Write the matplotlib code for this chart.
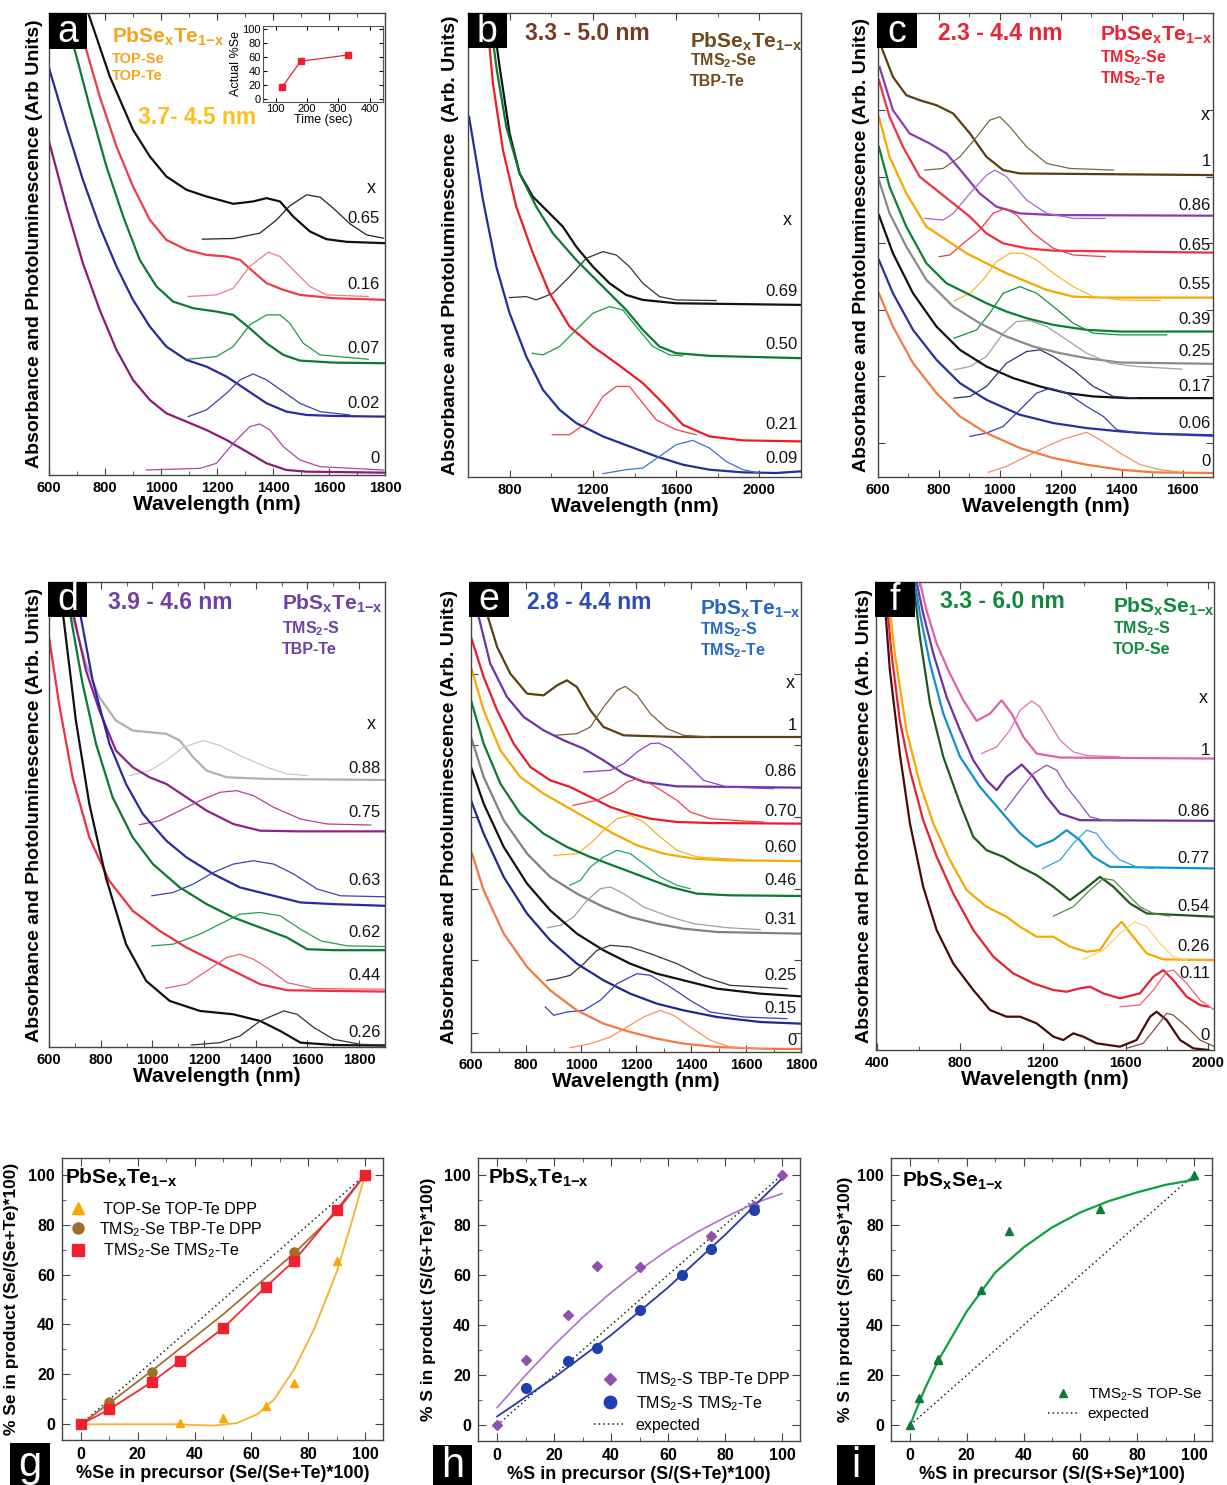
import numpy as np
import matplotlib
matplotlib.use('Agg')
import matplotlib.pyplot as plt
from matplotlib.patches import Rectangle
from matplotlib.lines import Line2D

plt.rcParams['font.family'] = ['Liberation Sans', 'DejaVu Sans']
plt.rcParams['mathtext.fontset'] = 'custom'
plt.rcParams['mathtext.rm'] = 'Liberation Sans'
plt.rcParams['mathtext.bf'] = 'Liberation Sans:bold'
plt.rcParams['mathtext.it'] = 'Liberation Sans:italic'

# ---------------- panel a : PbSexTe1-x, TOP-Se / TOP-Te ----------------
a_065_abs = ([740, 817, 900, 960, 1019, 1091, 1162, 1258, 1329, 1377, 1425, 1472, 1532, 1591, 1663, 1800],
             [138.5, 119.5, 103.5, 95.5, 89.5, 85.5, 83.5, 81.3, 82, 83, 82, 77.5, 73, 70.7, 69.9, 69.5])
a_065_pl = ([1148, 1258, 1353, 1413, 1460, 1520, 1568, 1615, 1675, 1734, 1794],
            [70.7, 70.9, 72.5, 76.5, 80.7, 84, 83.3, 80, 75.3, 72, 71])
a_016_abs = ([688, 733, 781, 841, 900, 960, 1019, 1091, 1162, 1234, 1282, 1329, 1377, 1437, 1496, 1615, 1800],
             [138.5, 127.5, 113.5, 98.5, 86.5, 76.5, 70.5, 67.5, 66, 65.5, 64.5, 61, 57.5, 55.5, 54, 53, 52.5])
a_016_pl = ([1097, 1198, 1258, 1317, 1383, 1425, 1472, 1532, 1591, 1740],
            [53.5, 54, 56, 62.5, 66.8, 65.5, 61.5, 56.5, 54, 53.5])
a_007_abs = ([656, 698, 745, 805, 865, 924, 984, 1043, 1115, 1198, 1258, 1317, 1377, 1437, 1496, 1615, 1800],
             [138.5, 125.5, 110.5, 92.5, 77.5, 64.5, 56.5, 52, 50, 49, 48, 44, 39.5, 36, 34.3, 33.7, 33.5])
a_007_pl = ([1097, 1198, 1258, 1317, 1377, 1425, 1460, 1508, 1568, 1740],
            [34.7, 35.5, 38.5, 45, 48, 48, 45.5, 39.5, 36, 34.7])
a_002_abs = ([600, 662, 721, 781, 841, 900, 960, 1019, 1091, 1162, 1234, 1306, 1377, 1448, 1520, 1615, 1800],
             [122, 104.5, 88.5, 74.5, 62.5, 52.5, 44.5, 38.5, 34.5, 32.5, 29.5, 25.5, 21.5, 19, 18, 17.7, 17.5])
a_002_pl = ([1097, 1162, 1234, 1282, 1329, 1377, 1437, 1496, 1568, 1675],
            [17.5, 19.5, 24.5, 28.5, 30.3, 28.5, 25, 21.5, 19, 18])
a_000_abs = ([600, 662, 721, 781, 841, 900, 960, 1019, 1091, 1162, 1234, 1306, 1377, 1448, 1520, 1800],
             [100, 80.5, 63.5, 49.5, 37.5, 28.5, 22.5, 18.5, 16, 13.5, 10.5, 7, 3.5, 1.5, 1, 0.7])
a_000_pl = ([948, 1139, 1198, 1258, 1317, 1353, 1389, 1437, 1496, 1568, 1794],
            [1.5, 2, 3.5, 9.5, 14.5, 15.3, 13.5, 8.5, 4.5, 2.5, 1.5])
a_labels = ['0.65', '0.16', '0.07', '0.02', '0']
a_label_y = [77, 57, 38, 21.5, 5]
# inset: actual %Se vs time
inset_time = [120, 180, 330]
inset_se = [16, 54, 63]

# ---------------- panel b : PbSexTe1-x, TMS2-Se / TBP-Te ----------------
b_069_abs = ([717, 752, 800, 848, 912, 992, 1056, 1120, 1200, 1280, 1360, 1440, 1600, 2200],
             [139.4, 123.2, 103.2, 91.2, 84.2, 79.2, 75.2, 69.2, 63.2, 58.2, 54.7, 53.2, 52.2, 51.7])
b_069_pl = ([800, 880, 928, 1008, 1088, 1168, 1248, 1312, 1376, 1440, 1520, 1600, 1792],
            [53.9, 54.2, 53.2, 55.2, 60.2, 65.7, 67.7, 66.7, 63.2, 58.2, 54.2, 53.2, 53])
b_050_abs = ([704, 736, 784, 848, 928, 1008, 1120, 1200, 1280, 1360, 1440, 1520, 1600, 1760, 2200],
             [139.4, 123.2, 105.2, 91.2, 81.2, 73.2, 65.2, 60.2, 55.2, 50.2, 44.2, 39.2, 37.2, 36.4, 35.7])
b_050_pl = ([909, 960, 1040, 1120, 1200, 1280, 1344, 1408, 1488, 1568, 1632],
            [37.2, 36.7, 39.2, 44.2, 49.2, 51.2, 50.2, 45.2, 39.2, 36.7, 36.4])
b_021_abs = ([688, 720, 768, 832, 912, 992, 1088, 1200, 1312, 1440, 1536, 1632, 1760, 1920, 2200],
             [139.4, 118.2, 98.2, 81.2, 67.2, 55.2, 45.2, 39.2, 34.2, 28.2, 22.2, 15.7, 12.2, 11, 10.7])
b_021_pl = ([1005, 1088, 1168, 1248, 1312, 1376, 1440, 1504, 1600, 1696],
            [12.7, 12.7, 16.2, 24.2, 27.2, 27.2, 22.2, 17.2, 14.2, 12.7])
b_009_abs = ([605, 672, 736, 800, 880, 960, 1040, 1120, 1248, 1376, 1504, 1632, 1760, 1920, 2080, 2200],
             [108.2, 83.2, 63.2, 49.2, 36.2, 26.2, 20.2, 16.2, 12.2, 9.2, 6.2, 3.7, 2.2, 1.4, 1.2, 1.7])
b_009_pl = ([1248, 1360, 1440, 1520, 1600, 1680, 1760, 1840, 1920, 2000],
            [1, 2.2, 2.7, 6.2, 9.7, 11, 8.7, 4.7, 2.2, 1.2])
b_labels = ['0.69', '0.50', '0.21', '0.09']
b_label_y = [55.7, 39.7, 15.7, 5.7]

# ---------------- panel c : PbSexTe1-x, TMS2-Se / TMS2-Te ----------------
c_100_abs = ([611, 649, 693, 737, 792, 847, 902, 956, 1011, 1066, 1702],
             [129.2, 120.2, 114.7, 113.2, 111.7, 109.2, 103.2, 96.2, 92.2, 91.2, 90.7])
c_100_pl = ([754, 814, 869, 924, 967, 1000, 1033, 1088, 1154, 1230, 1373],
            [92.2, 92.7, 96.2, 102.2, 107.2, 108.2, 105.2, 99.2, 94.2, 92.7, 92.2])
c_086_abs = ([605, 649, 704, 770, 825, 880, 934, 989, 1066, 1176, 1702],
             [123.2, 110.2, 103.2, 100.2, 97.2, 91.2, 85.2, 81.2, 79.2, 78.7, 78.5])
c_086_pl = ([754, 814, 847, 902, 956, 984, 1022, 1088, 1154, 1241, 1346],
            [77.7, 77.2, 79.2, 85.2, 90.7, 92.2, 90.2, 83.2, 79.2, 77.7, 77.7])
c_065_abs = ([603, 638, 682, 737, 792, 847, 902, 956, 1011, 1088, 1176, 1702],
             [119.2, 108.2, 99.2, 90.2, 86.2, 82.2, 78.2, 73.2, 70.2, 68.7, 68, 67.4])
c_065_pl = ([801, 836, 880, 934, 978, 1017, 1055, 1110, 1176, 1241, 1346],
            [66.2, 66.7, 70.2, 74.2, 79.2, 80.7, 78.7, 73.2, 68.7, 66.7, 66.2])
c_055_abs = ([603, 638, 693, 759, 825, 891, 956, 1022, 1088, 1154, 1241, 1340, 1702],
             [108.2, 96.2, 85.2, 75.2, 71.2, 67.2, 64.2, 61.2, 58.7, 56.2, 54.2, 53.9, 53.9])
c_055_pl = ([850, 902, 945, 989, 1033, 1077, 1121, 1176, 1241, 1307, 1395, 1527],
            [52.9, 55.2, 59.2, 64.7, 67.2, 67.2, 65.2, 61.2, 57.2, 54.2, 53.2, 53])
c_039_abs = ([603, 638, 693, 759, 825, 891, 956, 1022, 1088, 1176, 1285, 1395, 1702],
             [99.2, 87.2, 75.2, 64.2, 58.2, 55.2, 52.2, 49.7, 47.7, 45.7, 44.2, 43.7, 43.7])
c_039_pl = ([850, 880, 924, 967, 1011, 1066, 1121, 1176, 1241, 1307, 1395, 1548],
            [41.7, 42.7, 44.2, 49.2, 55.2, 57.2, 55.2, 51.2, 46.2, 43.2, 42.7, 42.7])
c_025_abs = ([603, 638, 693, 759, 847, 934, 1022, 1110, 1198, 1285, 1395, 1702],
             [89.2, 79.2, 69.2, 59.2, 51.2, 46.2, 42.2, 39.2, 37.2, 35.7, 34.4, 34])
c_025_pl = ([850, 902, 956, 1011, 1055, 1099, 1154, 1220, 1285, 1362, 1450, 1598],
            [32.2, 33.2, 36.2, 43.2, 46.7, 47, 45.2, 41.2, 37.2, 34.2, 33.2, 32.4])
c_017_abs = ([603, 649, 715, 792, 869, 956, 1044, 1132, 1220, 1307, 1417, 1702],
             [78.7, 67.2, 55.2, 45.2, 38.2, 33.2, 29.7, 27.2, 25.2, 24.2, 23.7, 23.7])
c_017_pl = ([850, 902, 956, 1022, 1088, 1132, 1176, 1241, 1307, 1373, 1450],
            [23.7, 24.2, 27.2, 34.2, 37.7, 38.2, 36.2, 32.2, 27.2, 24.2, 23.7])
c_006_abs = ([603, 649, 715, 792, 869, 956, 1066, 1176, 1285, 1395, 1505, 1702],
             [65.2, 55.2, 44.2, 35.2, 28.2, 23.2, 18.7, 16.2, 14.7, 13.7, 13, 12.4])
c_006_pl = ([902, 956, 1011, 1066, 1121, 1165, 1220, 1285, 1340, 1384, 1450, 1702],
            [12.2, 13.2, 15.2, 20.2, 25.2, 26.7, 25.2, 21.2, 18.2, 14.2, 13.2, 12.7])
c_000_abs = ([603, 649, 715, 792, 869, 956, 1066, 1176, 1285, 1395, 1505, 1702],
             [55.2, 45.2, 34.2, 25.2, 18.2, 13.2, 8.7, 5.7, 3.7, 2.2, 1.4, 1.2])
c_000_pl = ([962, 1022, 1088, 1154, 1209, 1285, 1329, 1395, 1461, 1527, 1593],
            [1.4, 3.2, 6.2, 9.2, 11.4, 13.4, 11.2, 7.2, 3.7, 2.2, 1.4])
c_labels = ['1', '0.86', '0.65', '0.55', '0.39', '0.25', '0.17', '0.06', '0']
c_label_y = [94.7, 81.7, 69.7, 57.7, 47.2, 37.7, 27.2, 16.2, 4.7]

# ---------------- panel d : PbSxTe1-x, TMS2-S / TBP-Te ----------------
d_088_abs = ([691, 743, 795, 859, 924, 989, 1054, 1106, 1158, 1210, 1288, 1443, 1900],
             [128.8, 114.8, 104.8, 97.8, 94.8, 94.3, 93.8, 91.8, 86.8, 82.8, 80.8, 80.3, 80])
d_088_pl = ([911, 989, 1054, 1119, 1197, 1261, 1339, 1443, 1521, 1599],
            [81.3, 82.8, 85.8, 89.8, 91.8, 90.3, 87.3, 83.8, 81.8, 81.3])
d_075_abs = ([697, 743, 795, 859, 924, 989, 1054, 1132, 1210, 1313, 1417, 1573, 1900],
             [128.8, 112.8, 100.8, 88.8, 83.8, 80.8, 78.8, 74.8, 70.8, 66.8, 64.8, 64.6, 64.6])
d_075_pl = ([950, 1028, 1106, 1184, 1261, 1326, 1391, 1469, 1573, 1677, 1845],
            [66.6, 67.8, 70.8, 73.8, 76.3, 76.8, 75.3, 71.8, 68.3, 66.8, 66.5])
d_063_abs = ([723, 769, 834, 898, 963, 1054, 1132, 1236, 1339, 1443, 1573, 1702, 1900],
             [128.8, 109.8, 90.8, 78.8, 69.8, 61.8, 56.8, 51.8, 47.8, 45.8, 43.3, 42.8, 42.3])
d_063_pl = ([998, 1080, 1158, 1236, 1313, 1391, 1469, 1547, 1638, 1728, 1900],
            [45.3, 46.3, 48.8, 52.3, 54.8, 55.8, 54.8, 51.8, 47.3, 45.3, 45])
d_062_abs = ([684, 730, 782, 846, 924, 1002, 1106, 1210, 1313, 1417, 1521, 1599, 1702, 1900],
             [128.8, 108.8, 90.8, 74.8, 62.8, 54.8, 47.8, 42.8, 38.8, 35.8, 32.8, 29.3, 29, 29])
d_062_pl = ([998, 1080, 1184, 1261, 1339, 1417, 1495, 1573, 1651, 1754, 1900],
            [30.3, 30.8, 33.8, 36.8, 39.8, 40.3, 39.3, 35.3, 31.8, 30.3, 30.1])
d_044_abs = ([600, 639, 691, 756, 833, 924, 1028, 1132, 1236, 1339, 1417, 1521, 1702, 1900],
             [122.8, 102.8, 80.8, 62.8, 49.8, 40.8, 34.8, 29.8, 25.8, 21.8, 18.8, 17, 16.8, 16.6])
d_044_pl = ([1050, 1132, 1210, 1287, 1339, 1391, 1443, 1521, 1625, 1900],
            [17.6, 18.8, 22.8, 26.8, 27.8, 26.3, 23.8, 19.3, 17.5, 17.3])
d_026_abs = ([639, 665, 704, 756, 820, 898, 976, 1067, 1184, 1313, 1417, 1495, 1573, 1702, 1900],
             [139.3, 122.8, 97.8, 72.8, 50.8, 30.8, 19.8, 13.8, 10.8, 9.8, 7.8, 4.8, 1.3, 0.6, 0.4])
d_026_pl = ([1151, 1261, 1339, 1417, 1508, 1560, 1625, 1702, 1806, 1900],
            [0.6, 1.3, 3.3, 7.8, 10.8, 9.8, 5.8, 2.3, 0.8, 0.6])
d_labels = ['0.88', '0.75', '0.63', '0.62', '0.44', '0.26']
d_label_y = [83.3, 70.3, 49.8, 34.3, 21.3, 4.3]

# ---------------- panel e : PbSxTe1-x, TMS2-S / TMS2-Te ----------------
e_100_abs = ([658, 695, 743, 804, 864, 913, 949, 985, 1034, 1082, 1155, 1349, 1800],
             [131.5, 121.5, 113.5, 107.5, 107, 110, 111.5, 109.5, 102.5, 97.5, 95, 94.5, 94.5])
e_100_pl = ([901, 985, 1034, 1082, 1131, 1161, 1204, 1252, 1313, 1373, 1470],
            [95, 95.5, 97.5, 103.5, 108.5, 109.7, 107, 101.5, 97, 95, 94.5])
e_086_abs = ([628, 670, 731, 792, 864, 937, 1010, 1082, 1155, 1228, 1349, 1800],
             [130.5, 116.5, 106.5, 100.5, 96.5, 93.5, 91, 87.5, 83.5, 81, 79.7, 79.3])
e_086_pl = ([1010, 1107, 1155, 1204, 1252, 1282, 1325, 1385, 1446, 1531, 1700],
            [84, 84.5, 86.5, 90, 92.5, 92.7, 91, 86.5, 81.5, 79.5, 79])
e_070_abs = ([600, 646, 695, 755, 816, 888, 961, 1034, 1107, 1179, 1252, 1349, 1470, 1800],
             [124.5, 112.5, 102.5, 92.5, 85.5, 81.5, 79.5, 76.5, 73.5, 71.5, 70, 69, 68.7, 68.5])
e_070_pl = ([971, 1058, 1119, 1167, 1204, 1252, 1301, 1349, 1397, 1470, 1591, 1664],
            [74, 75.5, 78, 81, 82, 80.5, 78, 75.5, 72, 70, 69.3, 69])
e_060_abs = ([600, 646, 707, 779, 864, 949, 1034, 1119, 1204, 1301, 1410, 1531, 1800],
             [115.5, 102.5, 90.5, 82.5, 77.5, 73.5, 69.5, 65.5, 62, 59.5, 58, 57.5, 57.3])
e_060_pl = ([901, 985, 1034, 1082, 1131, 1179, 1228, 1288, 1349, 1422, 1591],
            [59, 59.5, 62.5, 66.5, 70, 71, 69, 64.5, 60.5, 58.5, 57.7])
e_046_abs = ([600, 646, 707, 779, 864, 949, 1034, 1131, 1228, 1325, 1422, 1543, 1800],
             [105.5, 92.5, 80.5, 71.5, 65.5, 61.5, 58.5, 55.5, 52.5, 49.5, 47.5, 47, 46.8])
e_046_pl = ([959, 998, 1034, 1082, 1131, 1179, 1228, 1288, 1349, 1397],
            [50, 51.5, 55.5, 58.5, 60.5, 59.5, 56.5, 52.5, 50, 49])
e_031_abs = ([600, 646, 719, 804, 888, 985, 1082, 1179, 1276, 1373, 1494, 1800],
             [94.5, 82.5, 69.5, 59.5, 52.5, 47.5, 43.5, 40.5, 38.5, 37, 36, 35.5])
e_031_pl = ([879, 925, 973, 1022, 1070, 1107, 1155, 1228, 1325, 1410, 1531, 1652],
            [37.3, 38, 40.5, 45.5, 49, 49.5, 47.5, 43.5, 40.5, 38.5, 37.3, 36.7])
e_025_abs = ([600, 646, 719, 804, 888, 985, 1082, 1179, 1276, 1373, 1494, 1652, 1800],
             [85.5, 74.5, 61.5, 50.5, 42.5, 35.5, 30.5, 26.5, 23.5, 21.5, 19, 17.5, 16.7])
e_025_pl = ([876, 913, 961, 1010, 1058, 1107, 1179, 1252, 1349, 1446, 1543, 1749],
            [21.5, 22, 23, 26.5, 30.5, 32, 31.5, 29.5, 26.5, 22.5, 20, 19])
e_015_abs = ([600, 646, 719, 804, 888, 985, 1082, 1179, 1276, 1373, 1494, 1652, 1800],
             [75.5, 65.5, 52.5, 41.5, 33.5, 26.5, 21.5, 17.5, 14.5, 12.5, 10.5, 9, 8.5])
e_015_pl = ([870, 901, 949, 1010, 1070, 1131, 1204, 1252, 1325, 1397, 1470, 1591, 1749],
            [13.5, 11, 12, 12.5, 15.5, 20.5, 23.5, 23, 19.5, 15.5, 12, 10.5, 10])
e_000_abs = ([604, 646, 719, 804, 888, 985, 1082, 1179, 1276, 1373, 1494, 1652, 1800],
             [59.5, 48.5, 35.5, 25.5, 18.5, 12.5, 8.5, 6, 4, 2.5, 1.5, 1, 0.9])
e_000_pl = ([961, 1034, 1107, 1167, 1228, 1288, 1337, 1397, 1470, 1543, 1664],
            [1.3, 2.5, 4.5, 7.5, 10.5, 12.5, 11, 7.5, 3.5, 1.5, 1])
e_labels = ['1', '0.86', '0.70', '0.60', '0.46', '0.31', '0.25', '0.15', '0']
e_label_y = [98, 84, 72, 61.5, 51.5, 39.7, 23, 13, 3.5]

# ---------------- panel f : PbSxSe1-x, TMS2-S / TOP-Se ----------------
f_100_abs = ([606, 638, 687, 751, 816, 880, 945, 1001, 1049, 1106, 1170, 1283, 2030],
             [140.5, 132, 122, 113, 105, 98.8, 101, 105, 101, 94, 89, 87.8, 87.5])
f_100_pl = ([904, 977, 1041, 1090, 1146, 1186, 1234, 1283, 1347, 1412, 1573],
            [89, 91, 96, 102, 104.8, 103, 98, 93, 89.5, 88.4, 88])
f_086_abs = ([590, 622, 671, 735, 800, 864, 928, 977, 1025, 1098, 1154, 1218, 1283, 1379, 2030],
             [140.5, 131, 119, 106, 96, 87, 81, 78, 82, 85.7, 82, 76, 71, 69, 68.8])
f_086_pl = ([1017, 1090, 1154, 1218, 1267, 1315, 1379, 1428, 1492, 1573],
            [72, 78, 83, 85.5, 84, 79, 74, 70, 69, 68.8])
f_077_abs = ([582, 606, 655, 719, 800, 896, 993, 1090, 1170, 1251, 1315, 1379, 1444, 1524, 2030],
             [140.5, 131, 116, 101, 88, 79, 72, 65, 61, 63, 66, 63, 58, 55, 54.5])
f_077_pl = ([1199, 1283, 1347, 1412, 1460, 1508, 1573, 1653, 1734],
            [54.5, 57, 62, 66, 65, 61, 57, 55, 54.5])
f_054_abs = ([574, 606, 655, 719, 800, 864, 928, 1009, 1090, 1170, 1251, 1331, 1396, 1476, 1541, 1621, 1702, 2030],
             [140.5, 124, 104, 88, 74, 64, 60, 58, 55, 52.5, 49, 45, 48, 52, 49, 44, 41, 40])
f_054_pl = ([1251, 1347, 1428, 1492, 1541, 1605, 1669, 1734, 1814],
            [40.2, 43, 48, 51.5, 51, 47, 43, 41, 40.2])
f_026_abs = ([445, 485, 541, 606, 671, 751, 832, 928, 1025, 1090, 1170, 1251, 1331, 1412, 1476, 1541, 1581, 1637, 1702, 1782, 2030],
             [140.5, 119, 96, 80, 68, 57, 48, 43, 40, 37, 34, 34, 31, 29.5, 30, 36, 38.5, 34, 29, 27.2, 27])
f_026_pl = ([1396, 1492, 1573, 1645, 1702, 1766, 1830, 1895],
            [27.2, 30, 35, 38.5, 37, 32, 28, 27])
f_011_abs = ([437, 469, 509, 558, 622, 687, 767, 864, 961, 1057, 1154, 1251, 1315, 1379, 1428, 1492, 1573, 1669, 1734, 1782, 1830, 1895, 1959, 2000],
             [140.5, 119, 99, 84, 69, 58, 47, 36, 28, 23, 20, 18, 17.5, 18.5, 19, 17, 15.5, 17, 22, 24, 21, 16, 13.5, 13])
f_011_pl = ([1573, 1669, 1734, 1798, 1830, 1895, 1959, 2030],
            [13, 13.5, 18, 23.5, 24, 20, 15, 12])
f_000_abs = ([429, 461, 509, 558, 622, 687, 767, 864, 945, 1025, 1090, 1170, 1251, 1299, 1347, 1396, 1460, 1573, 1653, 1718, 1750, 1798, 1863, 1927, 2000],
             [140.5, 114, 89, 68, 49, 36, 26, 18, 12, 10, 10, 8, 4, 3, 5, 4, 2, 1, 3, 10, 11.5, 9, 3, 0.5, 0])
f_000_pl = ([1605, 1685, 1750, 1798, 1830, 1895, 1959, 2030],
            [0.5, 2, 7, 11, 10.5, 7, 3, 1])
f_labels = ['1', '0.86', '0.77', '0.54', '0.26', '0.11', '0']
f_label_y = [90, 71.5, 57.5, 43, 31, 23, 4.5]

# ---------------- panel g : PbSexTe1-x composition ----------------
g_top_x = [0, 35, 50, 65, 75, 90, 100]
g_top_y = [0, 0.5, 2.5, 7.5, 16.5, 65.5, 100]
g_top_fit_x = [0, 35, 40, 47, 55, 62, 68, 75, 82, 90, 95, 100]
g_top_fit_y = [0, 0, -0.3, -0.5, 0.5, 4, 10, 22, 38, 61, 80, 100]
g_tbp_x = [0, 10, 25, 75, 100]
g_tbp_y = [0, 9, 21, 69, 100]
g_tbp_fit_x = [0, 10, 25, 50, 75, 90, 100]
g_tbp_fit_y = [0, 8.5, 21.5, 44, 68.5, 85, 100]
g_tms_x = [0, 10, 25, 35, 50, 65, 75, 90, 100]
g_tms_y = [0, 6, 17, 25.5, 38.5, 55, 65.5, 86, 100]

# ---------------- panel h : PbSxTe1-x composition ----------------
h_tbp_x = [0, 10, 25, 35, 50, 75, 90, 100]
h_tbp_y = [0, 26, 44, 63.5, 63, 75.5, 87.5, 100]
h_tbp_fit_x = [0, 10, 20, 30, 40, 50, 60, 70, 80, 90, 100]
h_tbp_fit_y = [7, 20, 32, 43, 53, 62, 70, 77, 83, 88.5, 92.5]
h_tms_x = [10, 25, 35, 50, 65, 75, 90]
h_tms_y = [15, 25.5, 31, 46, 60, 70.5, 86]
h_tms_fit_x = [0, 20, 40, 60, 80, 100]
h_tms_fit_y = [3.5, 19, 36, 55, 76, 98.5]

# ---------------- panel i : PbSxSe1-x composition ----------------
i_x = [0, 3, 10, 10, 25, 35, 67, 100]
i_y = [0, 11, 26, 26.5, 54, 77.5, 86.5, 100]
i_fit_x = [0, 5, 10, 20, 30, 40, 50, 60, 70, 80, 90, 100]
i_fit_y = [0, 14, 26, 45.5, 61, 71, 79, 85, 89.5, 93, 96, 98]

expected = [0, 100]

# ---------------- figure ----------------
W, H = 1227, 1485
fig = plt.figure(figsize=(W / 100, H / 100), dpi=100)


def px_ax(l, t, r, b):
    return fig.add_axes([l / W, 1 - b / H, (r - l) / W, (b - t) / H])


def ftext(x, y, s, **kw):
    fig.text(x / W, 1 - y / H, s, **kw)


def letter_box(l, t, r, b, s, size=27):
    fig.patches.append(Rectangle((l / W, 1 - b / H), (r - l) / W, (b - t) / H,
                                 transform=fig.transFigure, facecolor='black',
                                 edgecolor='none', zorder=5))
    ftext((l + r) / 2, (t + b) / 2 + 1, s, color='white', fontsize=size,
          ha='center', va='center', zorder=6)


def spectra(ax, curves, xlim, ylim, xmajor, xminor, ylabel, lpad,
            labels, label_y, label_nm, x_nm, x_y, yticks=()):
    for abs_c, pl_c, ca, cp in curves:
        ax.plot(abs_c[0], abs_c[1], color=ca, lw=1.6, solid_joinstyle='round')
        ax.plot(pl_c[0], pl_c[1], color=cp, lw=0.9, solid_joinstyle='round')
    for s, y in zip(labels, label_y):
        ax.text(label_nm, y, s, ha='right', va='center', fontsize=12, color='#111')
    ax.text(x_nm, x_y, 'x', ha='center', va='center', fontsize=13, color='#111')
    ax.set_xlim(xlim)
    ax.set_ylim(ylim)
    ax.set_xticks(xmajor)
    ax.set_xticks(xminor, minor=True)
    ax.set_yticks(list(yticks))
    ax.set_yticklabels([])
    ax.tick_params(axis='both', which='both', direction='in', top=True, right=True,
                   color='#444')
    ax.tick_params(axis='x', which='major', labelsize=10.5, length=5, pad=4)
    ax.tick_params(axis='x', which='minor', length=3)
    ax.tick_params(axis='y', length=5)
    for lab in ax.get_xticklabels():
        lab.set_fontweight('bold')
    ax.set_xlabel('Wavelength (nm)', fontsize=15, fontweight='bold', labelpad=0)
    ax.set_ylabel(ylabel, fontsize=14, fontweight='bold', labelpad=lpad)
    for sp in ax.spines.values():
        sp.set_color('#444')
        sp.set_linewidth(1.0)


def comp(ax, xlabel, ylabel, lpad):
    ax.plot(expected, expected, color='#222', lw=1.1, ls=(0, (1, 2)), zorder=1)
    ax.set_xlim(-6.7, 106.3)
    ax.set_ylim(-6.3, 106.7)
    ax.set_xticks(np.arange(0, 101, 20))
    ax.set_yticks(np.arange(0, 101, 20))
    ax.set_xticks(np.arange(0, 101, 10), minor=True)
    ax.set_yticks(np.arange(0, 101, 10), minor=True)
    ax.tick_params(axis='both', which='both', direction='in', top=True, right=True,
                   color='#444')
    ax.tick_params(axis='both', which='major', labelsize=11.5, length=6, pad=5)
    ax.tick_params(axis='both', which='minor', length=3)
    for lab in ax.get_xticklabels() + ax.get_yticklabels():
        lab.set_fontweight('bold')
    ax.set_xlabel(xlabel, fontsize=13, fontweight='bold', labelpad=2)
    ax.set_ylabel(ylabel, fontsize=12.5, fontweight='bold', labelpad=lpad)
    for sp in ax.spines.values():
        sp.set_color('#444')
        sp.set_linewidth(1.0)


YL = 'Absorbance and Photoluminescence (Arb. Units)'
SE_TE = r'PbSe$_\mathbf{x}$Te$_\mathbf{1{-}x}$'
S_TE = r'PbS$_\mathbf{x}$Te$_\mathbf{1{-}x}$'
S_SE = r'PbS$_\mathbf{x}$Se$_\mathbf{1{-}x}$'

# panel a
ax_a = px_ax(49, 13, 385, 475)
spectra(ax_a,
        [(a_065_abs, a_065_pl, '#111111', '#222222'),
         (a_016_abs, a_016_pl, '#f03a4a', '#f27a88'),
         (a_007_abs, a_007_pl, '#0c7a32', '#1e9a48'),
         (a_002_abs, a_002_pl, '#2a2a9a', '#3a40b0'),
         (a_000_abs, a_000_pl, '#8a1a7a', '#a848a8')],
        (600, 1800), (0, 138.5), np.arange(600, 1801, 200), np.arange(700, 1800, 200),
        'Absorbance and Photoluminescence (Arb Units)', 4.3,
        a_labels, a_label_y, 1782, 1752, 86)
ax_in = px_ax(263, 26, 383, 102)
ax_in.plot(inset_time, inset_se, color='#ee2030', lw=0.9, marker='s', ms=4.5)
ax_in.set_xlim(60, 443)
ax_in.set_ylim(-5, 105)
ax_in.set_xticks([100, 200, 300, 400])
ax_in.set_yticks(np.arange(0, 101, 20))
ax_in.tick_params(direction='in', labelsize=8, length=3, pad=1.5, top=True, right=True)
ax_in.set_xlabel('Time (sec)', fontsize=9, labelpad=0)
ax_in.set_ylabel('Actual %Se', fontsize=9, labelpad=0)
for sp in ax_in.spines.values():
    sp.set_color('#555')
    sp.set_linewidth(0.8)

# panel b
ax_b = px_ax(468, 13, 801, 477)
spectra(ax_b,
        [(b_069_abs, b_069_pl, '#111111', '#333333'),
         (b_050_abs, b_050_pl, '#0a7a30', '#1e9a48'),
         (b_021_abs, b_021_pl, '#ee1c24', '#f04050'),
         (b_009_abs, b_009_pl, '#20309a', '#3a70d0')],
        (600, 2200), (0, 139.4), [800, 1200, 1600, 2000], [1000, 1400, 1800],
        'Absorbance and Photoluminescence  (Arb. Units)', 6.5,
        b_labels, b_label_y, 2184, 2136, 77.2)

# panel c
ax_c = px_ax(878, 13, 1213, 477)
spectra(ax_c,
        [(c_100_abs, c_100_pl, '#5a3e10', '#7a6a40'),
         (c_086_abs, c_086_pl, '#8a3ab0', '#a868c8'),
         (c_065_abs, c_065_pl, '#f03040', '#f03848'),
         (c_055_abs, c_055_pl, '#f7a800', '#f8b830'),
         (c_039_abs, c_039_pl, '#0a8030', '#109040'),
         (c_025_abs, c_025_pl, '#8a8a8a', '#a0a0a0'),
         (c_017_abs, c_017_pl, '#111111', '#303070'),
         (c_006_abs, c_006_pl, '#2830a0', '#3040b0'),
         (c_000_abs, c_000_pl, '#f57a40', '#f79060')],
        (600, 1700), (0, 139.4), np.arange(600, 1601, 200), np.arange(700, 1700, 200),
        YL, 2.0, c_labels, c_label_y, 1693, 1675, 108.7,
        yticks=np.arange(10.2, 120, 20))

# panel d
ax_d = px_ax(49, 582, 385, 1047)
spectra(ax_d,
        [(d_088_abs, d_088_pl, '#b0b0b0', '#c8c8c8'),
         (d_075_abs, d_075_pl, '#90208a', '#b040a0'),
         (d_063_abs, d_063_pl, '#2a2aa0', '#4040b0'),
         (d_062_abs, d_062_pl, '#0a7a30', '#20a050'),
         (d_044_abs, d_044_pl, '#f03040', '#f06070'),
         (d_026_abs, d_026_pl, '#111111', '#333333')],
        (600, 1900), (0, 139.3), np.arange(600, 1801, 200), np.arange(700, 1900, 200),
        YL, 4.3, d_labels, d_label_y, 1884, 1848, 96.6)

# panel e
ax_e = px_ax(471, 582, 801, 1052)
spectra(ax_e,
        [(e_100_abs, e_100_pl, '#5a4010', '#7a6030'),
         (e_086_abs, e_086_pl, '#7030a8', '#9040c0'),
         (e_070_abs, e_070_pl, '#e81c2c', '#f04050'),
         (e_060_abs, e_060_pl, '#f8a800', '#f8b020'),
         (e_046_abs, e_046_pl, '#0a7a30', '#20a080'),
         (e_031_abs, e_031_pl, '#808080', '#a0a0a0'),
         (e_025_abs, e_025_pl, '#111111', '#333333'),
         (e_015_abs, e_015_pl, '#1e2a8a', '#3a40b8'),
         (e_000_abs, e_000_pl, '#f57840', '#f79060')],
        (600, 1800), (0, 141), np.arange(600, 1801, 200), np.arange(700, 1800, 200),
        YL, 5.8, e_labels, e_label_y, 1785, 1761, 110.5,
        yticks=[5.7, 27.5, 49, 70.5, 92, 113.5])

# panel f
ax_f = px_ax(876, 582, 1214, 1050)
spectra(ax_f,
        [(f_100_abs, f_100_pl, '#e060a8', '#e070b0'),
         (f_086_abs, f_086_pl, '#7030a0', '#9050b0'),
         (f_077_abs, f_077_pl, '#1090d0', '#30a0d8'),
         (f_054_abs, f_054_pl, '#1e5a1e', '#5a8a4a'),
         (f_026_abs, f_026_pl, '#f8a800', '#f8d080'),
         (f_011_abs, f_011_pl, '#e82030', '#f06070'),
         (f_000_abs, f_000_pl, '#4a0a0a', '#8a5040')],
        (394, 2027), (0, 140.5), [400, 800, 1200, 1600, 2000], [600, 1000, 1400, 1800],
        YL, 2.0, f_labels, f_label_y, 2008, 1976, 105.5)

# panel g
ax_g = px_ax(62, 1158, 383, 1440)
ax_g.plot(g_top_fit_x, g_top_fit_y, color='#f8b030', lw=1.3)
ax_g.plot(g_tbp_fit_x, g_tbp_fit_y, color='#a07030', lw=1.3)
ax_g.plot(g_tms_x, g_tms_y, color='#f02838', lw=1.3)
ax_g.plot(g_top_x, g_top_y, ls='none', marker='^', ms=6, color='#f8a800')
ax_g.plot(g_tbp_x, g_tbp_y, ls='none', marker='o', ms=6.5, color='#a0702a')
ax_g.plot(g_tms_x, g_tms_y, ls='none', marker='s', ms=7, color='#f02030')
comp(ax_g, '%Se in precursor (Se/(Se+Te)*100)', '% Se in product (Se/(Se+Te)*100)', 6.5)
ax_g.text(0.01, 0.93, SE_TE, transform=ax_g.transAxes,
          fontsize=15, fontweight='bold', va='center', ha='left')
hg = [Line2D([], [], ls='none', marker='^', ms=8, color='#f8a800'),
      Line2D([], [], ls='none', marker='o', ms=8, color='#a0702a'),
      Line2D([], [], ls='none', marker='s', ms=9, color='#f02030')]
ax_g.legend(hg, [' TOP-Se TOP-Te DPP', r'TMS$_2$-Se TBP-Te DPP', r' TMS$_2$-Se TMS$_2$-Te'],
            loc='upper left', bbox_to_anchor=(0.02, 0.845), frameon=False, fontsize=11.5,
            handlelength=1.2, handletextpad=0.7, labelspacing=0.2, borderaxespad=0, borderpad=0)

# panel h
ax_h = px_ax(478, 1158, 800, 1441)
ax_h.plot(h_tbp_fit_x, h_tbp_fit_y, color='#b070c8', lw=1.2)
ax_h.plot(h_tms_fit_x, h_tms_fit_y, color='#2838a8', lw=1.3)
ax_h.plot(h_tbp_x, h_tbp_y, ls='none', marker='D', ms=5, color='#9050b0')
ax_h.plot(h_tms_x, h_tms_y, ls='none', marker='o', ms=7, color='#2040b0')
comp(ax_h, '%S in precursor (S/(S+Te)*100)', '% S in product (S/(S+Te)*100)', 6)
ax_h.text(0.03, 0.93, S_TE, transform=ax_h.transAxes,
          fontsize=15, fontweight='bold', va='center', ha='left')
hh = [Line2D([], [], ls='none', marker='D', ms=6, color='#9050b0'),
      Line2D([], [], ls='none', marker='o', ms=9, color='#2040b0'),
      Line2D([], [], color='#222', lw=1.1, ls=(0, (1, 2)))]
ax_h.legend(hh, [r'TMS$_2$-S TBP-Te DPP', r'TMS$_2$-S TMS$_2$-Te', 'expected'],
            loc='lower right', bbox_to_anchor=(0.97, 0.03), frameon=False, fontsize=11.5,
            handlelength=2.0, handletextpad=0.6, labelspacing=0.3, borderaxespad=0, borderpad=0)

# panel i
ax_i = px_ax(891, 1158, 1212, 1441)
ax_i.plot(i_fit_x, i_fit_y, color='#10a040', lw=1.6)
ax_i.plot(i_x, i_y, ls='none', marker='^', ms=6, color='#107a38')
comp(ax_i, '%S in precursor (S/(S+Se)*100)', '% S in product (S/(S+Se)*100)', 3)
ax_i.text(0.035, 0.92, S_SE, transform=ax_i.transAxes,
          fontsize=15, fontweight='bold', va='center', ha='left')
hi = [Line2D([], [], ls='none', marker='^', ms=6, color='#107a38'),
      Line2D([], [], color='#222', lw=1.1, ls=(0, (1, 2)))]
ax_i.legend(hi, [r'TMS$_2$-S TOP-Se', 'expected'],
            loc='lower right', bbox_to_anchor=(0.97, 0.07), frameon=False, fontsize=11,
            handlelength=2.0, handletextpad=0.6, labelspacing=0.3, borderaxespad=0, borderpad=0)

# panel titles / annotations
orange_a = '#f7a21b'
ftext(112, 37, SE_TE, color=orange_a, fontsize=15, fontweight='bold', va='center')
ftext(112, 59, 'TOP-Se', color=orange_a, fontsize=10.5, fontweight='bold', va='center')
ftext(112, 76, 'TOP-Te', color=orange_a, fontsize=10.5, fontweight='bold', va='center')
ftext(138, 117, '3.7- 4.5 nm', color='#f9c21a', fontsize=16.5, fontweight='bold', va='center')

ftext(525, 33, '3.3 - 5.0 nm', color='#7b3a1e', fontsize=16.5, fontweight='bold', va='center')
ftext(690, 42, SE_TE, color='#6e4a1c', fontsize=15, fontweight='bold', va='center')
ftext(690, 61, r'TMS$_\mathbf{2}$-Se', color='#6e4a1c', fontsize=11.5, fontweight='bold', va='center')
ftext(690, 81, 'TBP-Te', color='#6e4a1c', fontsize=11.5, fontweight='bold', va='center')

ftext(938, 33, '2.3 - 4.4 nm', color='#ee2233', fontsize=16.5, fontweight='bold', va='center')
ftext(1100, 35, SE_TE, color='#ee2233', fontsize=15, fontweight='bold', va='center')
ftext(1100, 58, r'TMS$_\mathbf{2}$-Se', color='#ee2233', fontsize=11.5, fontweight='bold', va='center')
ftext(1100, 79, r'TMS$_\mathbf{2}$-Te', color='#ee2233', fontsize=11.5, fontweight='bold', va='center')

ftext(108, 603, '3.9 - 4.6 nm', color='#7040a8', fontsize=16.5, fontweight='bold', va='center')
ftext(282, 604, S_TE, color='#7040a8', fontsize=15, fontweight='bold', va='center')
ftext(282, 629, r'TMS$_\mathbf{2}$-S', color='#7040a8', fontsize=11.5, fontweight='bold', va='center')
ftext(282, 650, 'TBP-Te', color='#7040a8', fontsize=11.5, fontweight='bold', va='center')

ftext(527, 603, '2.8 - 4.4 nm', color='#2b4bb5', fontsize=16.5, fontweight='bold', va='center')
ftext(700, 609, S_TE, color='#2566c8', fontsize=15, fontweight='bold', va='center')
ftext(700, 630, r'TMS$_\mathbf{2}$-S', color='#2566c8', fontsize=11.5, fontweight='bold', va='center')
ftext(700, 651, r'TMS$_\mathbf{2}$-Te', color='#2566c8', fontsize=11.5, fontweight='bold', va='center')

ftext(940, 601, '3.3 - 6.0 nm', color='#0f8a3c', fontsize=16.5, fontweight='bold', va='center')
ftext(1113, 607, S_SE, color='#0f8a3c', fontsize=15, fontweight='bold', va='center')
ftext(1113, 629, r'TMS$_\mathbf{2}$-S', color='#0f8a3c', fontsize=11.5, fontweight='bold', va='center')
ftext(1113, 650, 'TOP-Se', color='#0f8a3c', fontsize=11.5, fontweight='bold', va='center')

# panel letters
letter_box(49, 13, 87, 49, 'a')
letter_box(468, 13, 507, 48, 'b')
letter_box(877, 13, 917, 48, 'c')
letter_box(48, 582, 87, 617, 'd')
letter_box(469, 582, 509, 617, 'e')
letter_box(875, 582, 915, 617, 'f')
letter_box(10, 1443, 50, 1485, 'g', size=30)
letter_box(433, 1445, 472, 1485, 'h', size=30)
letter_box(837, 1445, 875, 1485, 'i', size=30)

fig.savefig('out.png', dpi=100)
